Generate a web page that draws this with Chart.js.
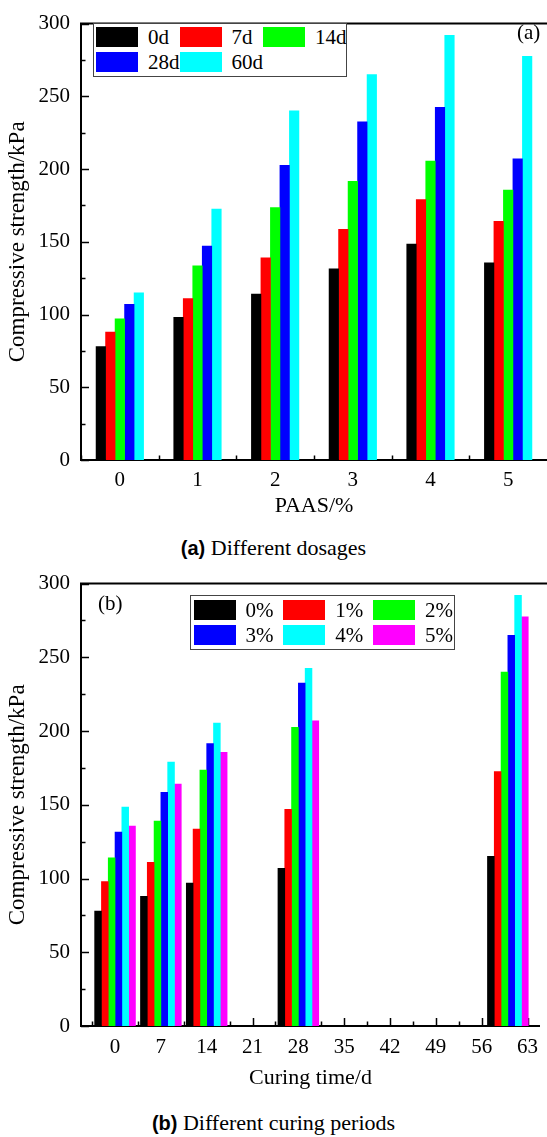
<!DOCTYPE html>
<html>
<head>
<meta charset="utf-8">
<script src="https://cdn.jsdelivr.net/npm/chart.js@4.4.1/dist/chart.umd.min.js"></script>
<style>
  body { margin: 0; background: #fff; }
  #page { position: relative; width: 547px; height: 1137px; overflow: hidden;
          font-family: "Liberation Serif", "Times New Roman", serif; color: #000; }
  .panel { position: absolute; left: 0; width: 547px; }
  .panel canvas { position: absolute; left: 0; top: 0; }
  .legend { position: absolute; box-sizing: border-box; border: 1px solid #444; background: #fff; }
  .item { position: absolute; display: flex; align-items: center; font-size: 21px; line-height: 20px; white-space: nowrap; }
  .sw { width: 42px; height: 20px; margin-right: 10px; }
  .tag { position: absolute; font-size: 21px; line-height: 22px; }
  .caption { position: absolute; left: 0; width: 547px; text-align: center; font-size: 22px; line-height: 24px; }
  .caption b { font-family: "Liberation Sans", Arial, sans-serif; font-size: 20px; }
</style>
</head>
<body>
<div id="page">
  <div class="panel" id="panelA" style="top:0;height:525px">
    <canvas id="chartA" width="547" height="525"></canvas>
    <div class="legend" id="legendA" style="left:93px;top:23px;width:254px;height:54px"></div>
    <div class="tag" style="left:517px;top:21px">(a)</div>
  </div>
  <div class="caption" style="top:536px"><b>(a)</b> Different dosages</div>

  <div class="panel" id="panelB" style="top:560px;height:540px">
    <canvas id="chartB" width="547" height="540"></canvas>
    <div class="legend" id="legendB" style="left:190px;top:35px;width:265px;height:55px"></div>
    <div class="tag" style="left:98px;top:32px">(b)</div>
  </div>
  <div class="caption" style="top:1111px"><b>(b)</b> Different curing periods</div>
</div>

<script>
// PAAS dosage (%) and curing ages (d)
const dosageLabels = ['0', '1', '2', '3', '4', '5'];
const curingDays = [0, 7, 14, 28, 60];
const curingTicks = [0, 7, 14, 21, 28, 35, 42, 49, 56, 63];
const strengthTicks = [0, 50, 100, 150, 200, 250, 300];

// compressive strength (kPa) for each dosage at 0/7/14/28/60 d
const paas0 = [78, 88, 97, 107, 115];
const paas1 = [98, 111, 133.5, 147, 172.5];
const paas2 = [114, 139, 173.5, 202.5, 240];
const paas3 = [131.5, 158.5, 191.5, 232.5, 265];
const paas4 = [148.5, 179, 205.5, 242.5, 292];
const paas5 = [135.5, 164, 185.5, 207, 277.5];

const seriesColors = ['#000000', '#ff0000', '#00ff00', '#0000ff', '#00ffff', '#ff00ff'];

const strengthRows = [paas0, paas1, paas2, paas3, paas4, paas5];

const SERIF = '"Liberation Serif", "Times New Roman", serif';

// frame top line + inward tick marks (origin style)
const frameTicks = {
  id: 'frameTicks',
  beforeDatasetsDraw(chart, args, opts) {
    const { ctx, chartArea: a, scales } = chart;
    ctx.save();
    ctx.strokeStyle = '#000';
    ctx.lineWidth = 1.5;
    ctx.beginPath();
    for (let v = 0; v <= 300; v += 25) {
      const y = Math.round(scales.y.getPixelForValue(v)) + 0.5;
      const len = v % 50 === 0 ? 8 : 4.5;
      ctx.moveTo(a.left, y);
      ctx.lineTo(a.left + len, y);
    }
    opts.xMajor.forEach(v => {
      const x = Math.round(scales.x.getPixelForValue(v)) + 0.5;
      ctx.moveTo(x, a.bottom);
      ctx.lineTo(x, a.bottom - 8);
    });
    opts.xMinor.forEach(v => {
      const x = Math.round(scales.x.getPixelForValue(v)) + 0.5;
      ctx.moveTo(x, a.bottom);
      ctx.lineTo(x, a.bottom - 4.5);
    });
    ctx.stroke();
    ctx.restore();
  },
  afterDraw(chart) {
    const { ctx, chartArea: a } = chart;
    ctx.save();
    ctx.strokeStyle = '#000';
    ctx.lineWidth = 2;
    ctx.beginPath();
    ctx.moveTo(a.left - 1, a.top);
    ctx.lineTo(chart.width, a.top);
    ctx.stroke();
    ctx.restore();
  }
};

function yScale(width, titlePad) {
  return {
    min: 0,
    max: 300,
    afterBuildTicks: s => { s.ticks = strengthTicks.map(v => ({ value: v })); },
    afterFit: s => { s.width = width; },
    grid: { display: false, drawTicks: false },
    border: { display: true, color: '#000', width: 2 },
    ticks: { color: '#000', padding: 11, font: { family: SERIF, size: 21 } },
    title: {
      display: true,
      text: 'Compressive strength/kPa',
      color: '#000',
      padding: { top: titlePad, bottom: 0 },
      font: { family: SERIF, size: 23 }
    }
  };
}

function buildLegend(el, chart, colStep, left0, top0) {
  chart.data.datasets.forEach((ds, i) => {
    const item = document.createElement('div');
    item.className = 'item';
    item.style.left = (left0 + (i % 3) * colStep) + 'px';
    item.style.top = (top0 + Math.floor(i / 3) * 25.5) + 'px';
    const sw = document.createElement('span');
    sw.className = 'sw';
    sw.style.background = ds.backgroundColor;
    const txt = document.createElement('span');
    txt.textContent = ds.label;
    item.appendChild(sw);
    item.appendChild(txt);
    el.appendChild(item);
  });
}

// (a) strength vs dosage, one bar per curing age
const dosageSets = curingDays.map((d, j) => ({
  label: d + 'd',
  data: strengthRows.map(r => r[j]),
  backgroundColor: seriesColors[j],
  barThickness: 9.5
}));

const chartA = new Chart(document.getElementById('chartA'), {
  type: 'bar',
  data: { labels: dosageLabels, datasets: dosageSets },
  options: {
    responsive: false,
    animation: false,
    layout: { padding: { top: 14, left: 0, right: 0, bottom: 0 } },
    plugins: {
      legend: { display: false },
      tooltip: { enabled: false },
      frameTicks: {
        xMajor: [0, 1, 2, 3, 4, 5],
        xMinor: [-0.5, 0.5, 1.5, 2.5, 3.5, 4.5]
      }
    },
    scales: {
      x: {
        offset: true,
        afterFit: s => { s.height = 525 - 14 - 446; },
        grid: { display: false, drawTicks: false, offset: true },
        border: { display: true, color: '#000', width: 2 },
        ticks: { color: '#000', padding: 8, font: { family: SERIF, size: 21 } },
        title: {
          display: true,
          text: 'PAAS/%',
          color: '#000',
          padding: { top: 0, bottom: 6 },
          font: { family: SERIF, size: 22 }
        }
      },
      y: yScale(81, 4)
    }
  },
  plugins: [frameTicks]
});
buildLegend(document.getElementById('legendA'), chartA, 83.5, 2, 2.5);

// (b) strength vs curing time, one bar per dosage
const curingSets = strengthRows.map((row, i) => ({
  label: dosageLabels[i] + '%',
  data: curingDays.map((d, j) => ({ x: d, y: row[j] })),
  backgroundColor: seriesColors[i],
  barThickness: 6.8
}));

const minorCuring = curingTicks.map(v => v - 3.5);

const chartB = new Chart(document.getElementById('chartB'), {
  type: 'bar',
  data: { datasets: curingSets },
  options: {
    responsive: false,
    animation: false,
    layout: { padding: { top: 21, left: 0, right: 0, bottom: 0 } },
    plugins: {
      legend: { display: false },
      tooltip: { enabled: false },
      frameTicks: { xMajor: curingTicks, xMinor: minorCuring }
    },
    scales: {
      x: {
        type: 'linear',
        offset: false,
        min: -5.2,
        max: 64.9,
        afterBuildTicks: s => { s.ticks = curingTicks.map(v => ({ value: v })); },
        afterFit: s => { s.height = 540 - 21 - 445; },
        grid: { display: false, drawTicks: false, offset: false },
        border: { display: true, color: '#000', width: 2 },
        ticks: { color: '#000', padding: 9, font: { family: SERIF, size: 21 } },
        title: {
          display: true,
          text: 'Curing time/d',
          color: '#000',
          padding: { top: 0, bottom: 9 },
          font: { family: SERIF, size: 22 }
        }
      },
      y: yScale(81, 4)
    }
  },
  plugins: [frameTicks]
});
buildLegend(document.getElementById('legendB'), chartB, 89.7, 2.5, 3.5);
</script>
</body>
</html>
